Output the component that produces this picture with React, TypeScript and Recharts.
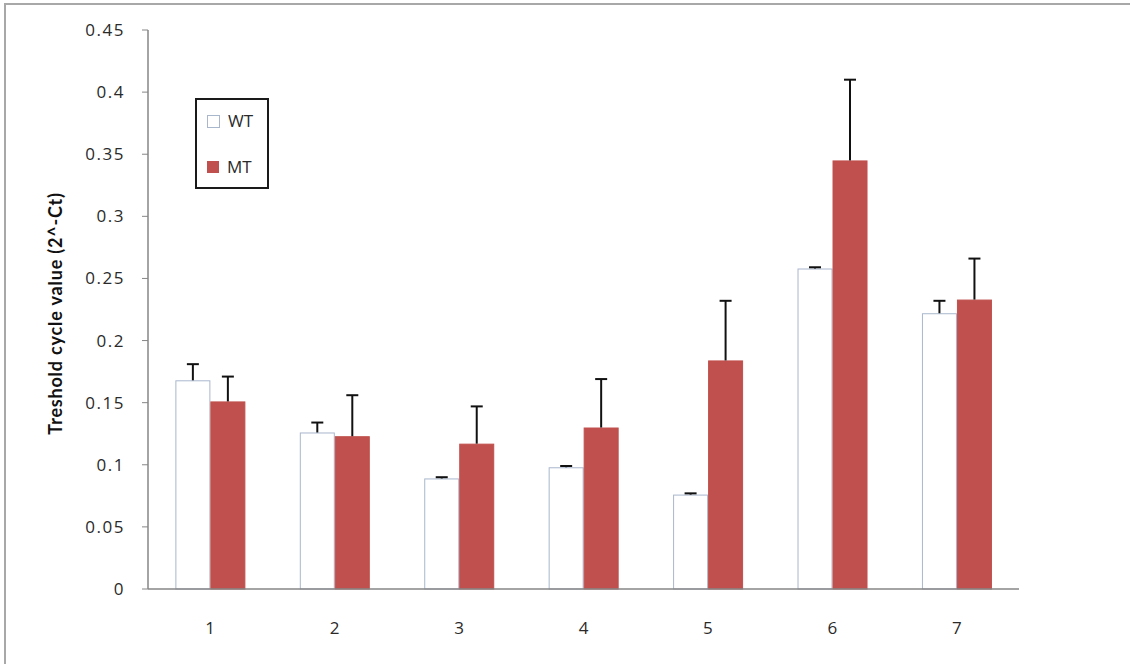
import React from 'react'
import { BarChart, Bar, XAxis, YAxis, Legend, Label } from 'recharts'

const categories = ['1', '2', '3', '4', '5', '6', '7']
const wtValues = [0.168, 0.126, 0.089, 0.098, 0.076, 0.258, 0.222]
const wtErrors = [0.013, 0.008, 0.001, 0.001, 0.001, 0.001, 0.01]
const mtValues = [0.151, 0.123, 0.117, 0.13, 0.184, 0.345, 0.233]
const mtErrors = [0.02, 0.033, 0.03, 0.039, 0.048, 0.065, 0.033]
const yTicks = [0, 0.05, 0.1, 0.15, 0.2, 0.25, 0.3, 0.35, 0.4, 0.45]

const WT_STROKE = '#a9b7cd'
const MT_FILL = '#c0504d'
const AXIS_GRAY = '#868686'
const TEXT = '#2a2a2a'
const FONT = '"Open Sans", Lato, sans-serif'
const LABEL_FONT = 'Lato, "Open Sans", sans-serif'

const data = categories.map((name, i) => ({
  name,
  wt: wtValues[i],
  wtErr: wtErrors[i],
  mt: mtValues[i],
  mtErr: mtErrors[i],
}))

// bar with a plus-only error bar on top, like Excel draws it
const barWithError = (valKey: string, errKey: string, fill: string, stroke: string) => (props: any) => {
  const { x, y, width, height, payload } = props
  const v = payload[valKey]
  const e = payload[errKey]
  const errPx = v ? (e / v) * height : 0
  const cx = x + width / 2
  return (
    <g>
      <rect x={x + 0.5} y={y + 0.5} width={width - 1} height={height - 0.5} fill={fill} stroke={stroke} strokeWidth={1} />
      <line x1={cx} x2={cx} y1={y} y2={y - errPx} stroke="#111" strokeWidth={2} />
      <line x1={cx - 6} x2={cx + 6} y1={y - errPx} y2={y - errPx} stroke="#111" strokeWidth={2} />
    </g>
  )
}

const LegendBox = () => (
  <div
    style={{
      width: 74,
      height: 91,
      boxSizing: 'border-box',
      border: '2px solid #1a1a1a',
      background: '#fff',
      fontFamily: FONT,
      fontSize: 17,
      color: TEXT,
      position: 'relative',
    }}
  >
    <div style={{ position: 'absolute', left: 10, top: 14, display: 'flex', alignItems: 'center' }}>
      <span style={{ width: 11, height: 11, border: `1px solid ${WT_STROKE}`, background: '#fff', display: 'inline-block' }} />
      <span style={{ marginLeft: 8, lineHeight: '14px' }}>WT</span>
    </div>
    <div style={{ position: 'absolute', left: 10, top: 60, display: 'flex', alignItems: 'center' }}>
      <span style={{ width: 12, height: 12, background: MT_FILL, display: 'inline-block' }} />
      <span style={{ marginLeft: 8, lineHeight: '14px' }}>MT</span>
    </div>
  </div>
)

const YLabel = (props: any) => {
  const { viewBox } = props
  const cy = viewBox.y + viewBox.height / 2 + 4
  return (
    <text
      x={55}
      y={cy}
      transform={`rotate(-90 55 ${cy})`}
      textAnchor="middle"
      dominantBaseline="central"
      fontFamily={LABEL_FONT}
      fontWeight={700}
      fontSize={18}
      letterSpacing={0.8}
      fill="#111"
    >
      Treshold cycle  value (2^-Ct)
    </text>
  )
}

export default function App() {
  return (
    <div style={{ position: 'absolute', left: 0, top: 0, width: 1130, height: 664, overflow: 'hidden', background: '#fff' }}>
      <div
        style={{
          position: 'absolute',
          left: 4,
          top: 3,
          width: 1300,
          height: 800,
          border: '2px solid #a8a8a8',
        }}
      />
      <div style={{ position: 'absolute', left: 0, top: 0 }}>
        <BarChart
          width={1130}
          height={664}
          data={data}
          margin={{ top: 30, right: 111, bottom: 0, left: 0 }}
          barCategoryGap="22%"
          barGap={0}
        >
          <XAxis
            dataKey="name"
            height={75}
            tickLine={false}
            axisLine={{ stroke: AXIS_GRAY, strokeWidth: 1.5 }}
            tickMargin={27}
            tick={{ fontFamily: FONT, fontSize: 17, fill: TEXT }}
          />
          <YAxis
            width={148}
            domain={[0, 0.45]}
            ticks={yTicks}
            interval={0}
            tickSize={6}
            tickMargin={17}
            tickLine={{ stroke: AXIS_GRAY }}
            axisLine={{ stroke: AXIS_GRAY, strokeWidth: 1.5 }}
            tick={{ fontFamily: FONT, fontSize: 17, fill: TEXT, letterSpacing: 1.5 }}
          >
            <Label content={YLabel} />
          </YAxis>
          <Legend
            layout="vertical"
            align="center"
            verticalAlign="middle"
            content={LegendBox}
            wrapperStyle={{ left: 195, top: 98, width: 74, height: 91 }}
          />
          <Bar dataKey="wt" name="WT" isAnimationActive={false} shape={barWithError('wt', 'wtErr', '#fff', WT_STROKE)} />
          <Bar dataKey="mt" name="MT" isAnimationActive={false} shape={barWithError('mt', 'mtErr', MT_FILL, MT_FILL)} />
        </BarChart>
      </div>
    </div>
  )
}
